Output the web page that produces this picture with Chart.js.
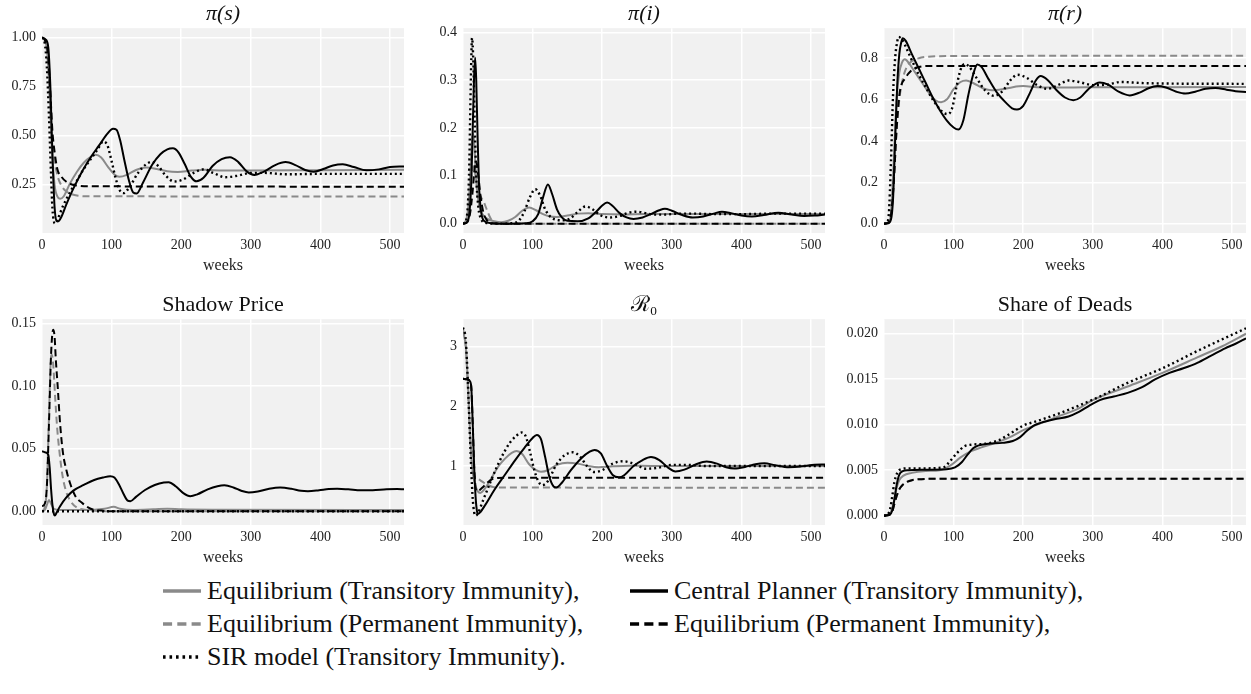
<!DOCTYPE html>
<html>
<head>
<meta charset="utf-8">
<title>Epidemic paths: equilibrium vs central planner</title>
<script src="https://cdn.jsdelivr.net/npm/chart.js@4.4.1/dist/chart.umd.min.js"></script>
<style>
  body { margin: 0; background: #fff; width: 1251px; height: 694px; position: relative; overflow: hidden; font-family: "Liberation Serif", serif; color: #111; }
  canvas { position: absolute; }
  .item { position: absolute; display: flex; align-items: center; height: 30px; white-space: nowrap; font-size: 26px; }
  .item svg { margin-right: 6px; }
</style>
</head>
<body>
<script>
// x axis (weeks)
const weekTicks = [0, 100, 200, 300, 400, 500];
const weekMax = 520;

// pi(s): [week, share]
const sEqTrans = [[0,1.0],[5,0.98],[10,0.8],[14,0.45],[18,0.25],[22,0.19],[26,0.178],[31,0.19],[40,0.255],[50,0.315],[60,0.362],[70,0.392],[77,0.402],[85,0.388],[95,0.34],[104,0.302],[111,0.29],[122,0.3],[135,0.325],[150,0.337],[165,0.33],[180,0.318],[195,0.315],[215,0.322],[235,0.326],[260,0.322],[300,0.322],[400,0.324],[520,0.326]];
const sEqPerm = [[0,1.0],[5,0.98],[9,0.85],[13,0.56],[17,0.4],[22,0.3],[28,0.245],[35,0.215],[42,0.202],[52,0.194],[65,0.191],[520,0.19]];
const sSir = [[0,1.0],[4,0.97],[7,0.85],[10,0.6],[13,0.3],[15,0.13],[17,0.065],[19,0.053],[22,0.07],[30,0.14],[40,0.21],[50,0.27],[60,0.33],[70,0.38],[80,0.43],[88,0.47],[94,0.45],[100,0.37],[106,0.28],[112,0.22],[117,0.207],[126,0.24],[138,0.31],[150,0.355],[158,0.367],[167,0.345],[178,0.295],[190,0.266],[202,0.275],[218,0.31],[232,0.328],[246,0.31],[263,0.288],[280,0.295],[300,0.31],[320,0.31],[350,0.303],[400,0.305],[450,0.305],[520,0.305]];
const sCpTrans = [[0,1.0],[5,0.99],[9,0.95],[12,0.75],[15,0.4],[18,0.14],[21,0.065],[23,0.063],[27,0.08],[35,0.15],[45,0.23],[58,0.32],[70,0.39],[82,0.45],[94,0.51],[102,0.535],[107,0.53],[112,0.48],[118,0.38],[125,0.27],[131,0.21],[136,0.205],[145,0.26],[158,0.35],[170,0.405],[180,0.43],[188,0.435],[196,0.415],[205,0.355],[214,0.29],[222,0.267],[232,0.285],[245,0.345],[258,0.38],[270,0.39],[282,0.365],[294,0.318],[305,0.3],[318,0.315],[335,0.35],[350,0.365],[364,0.35],[378,0.325],[390,0.316],[404,0.33],[418,0.348],[432,0.354],[448,0.34],[466,0.323],[484,0.328],[500,0.34],[520,0.343]];
const sCpPerm = [[0,1.0],[5,0.98],[9,0.9],[12,0.72],[15,0.52],[18,0.42],[22,0.33],[28,0.29],[35,0.265],[44,0.25],[55,0.244],[70,0.242],[520,0.24]];

// pi(i)
const iEqTrans = [[0,0],[5,0.01],[9,0.06],[12,0.15],[14,0.19],[16,0.17],[19,0.09],[23,0.04],[28,0.02],[35,0.01],[45,0.005],[55,0.003],[65,0.006],[75,0.014],[85,0.027],[95,0.034],[105,0.028],[115,0.02],[125,0.015],[135,0.014],[150,0.017],[165,0.021],[180,0.022],[200,0.02],[230,0.019],[260,0.02],[300,0.02],[400,0.02],[520,0.02]];
const iEqPerm = [[0,0],[5,0.005],[9,0.04],[12,0.1],[15,0.12],[18,0.1],[22,0.07],[26,0.055],[30,0.045],[34,0.03],[40,0.01],[48,0.002],[60,0],[520,0]];
const iSir = [[0,0],[4,0.005],[7,0.04],[9,0.12],[11,0.28],[13,0.388],[15,0.33],[17,0.2],[19,0.1],[22,0.035],[26,0.01],[32,0.002],[50,0],[70,0.001],[80,0.006],[88,0.025],[96,0.055],[104,0.072],[111,0.058],[118,0.03],[126,0.014],[135,0.008],[145,0.007],[155,0.012],[165,0.025],[176,0.036],[186,0.03],[197,0.018],[210,0.013],[225,0.016],[238,0.023],[250,0.025],[262,0.022],[275,0.019],[290,0.019],[310,0.021],[330,0.021],[360,0.02],[400,0.02],[450,0.021],[520,0.021]];
const iCpTrans = [[0,0],[5,0.002],[9,0.02],[12,0.09],[14,0.2],[16,0.31],[17.5,0.347],[19,0.3],[21,0.18],[23,0.08],[26,0.025],[30,0.006],[40,0.001],[60,0],[90,0.001],[100,0.005],[108,0.02],[115,0.055],[122,0.082],[128,0.062],[135,0.03],[142,0.013],[150,0.006],[165,0.005],[180,0.011],[192,0.026],[200,0.038],[207,0.044],[215,0.037],[225,0.022],[235,0.013],[245,0.01],[258,0.013],[270,0.02],[282,0.028],[290,0.031],[300,0.027],[315,0.018],[330,0.013],[345,0.015],[360,0.021],[372,0.025],[385,0.022],[400,0.017],[415,0.015],[432,0.018],[453,0.023],[472,0.019],[490,0.016],[505,0.017],[520,0.019]];
const iCpPerm = [[0,0],[6,0.003],[10,0.02],[14,0.07],[17,0.12],[19,0.13],[22,0.1],[25,0.06],[29,0.025],[34,0.008],[42,0.001],[55,0],[520,0]];

// pi(r)
const rEqTrans = [[0,0],[6,0.005],[10,0.05],[14,0.3],[18,0.6],[22,0.73],[26,0.78],[30,0.795],[36,0.775],[45,0.73],[55,0.68],[65,0.63],[74,0.597],[82,0.587],[90,0.6],[100,0.65],[110,0.685],[118,0.692],[128,0.68],[142,0.655],[155,0.645],[170,0.65],[185,0.66],[200,0.665],[220,0.66],[260,0.658],[320,0.66],[400,0.66],[520,0.661]];
const rEqPerm = [[0,0],[6,0.005],[10,0.04],[14,0.2],[18,0.45],[22,0.6],[27,0.7],[33,0.76],[40,0.785],[50,0.8],[62,0.807],[80,0.81],[520,0.812]];
const rSir = [[0,0],[4,0.005],[7,0.05],[10,0.3],[13,0.62],[16,0.8],[19,0.88],[21,0.903],[26,0.89],[32,0.85],[40,0.79],[50,0.72],[60,0.66],[70,0.6],[80,0.555],[86,0.535],[92,0.53],[98,0.56],[104,0.66],[110,0.745],[116,0.772],[122,0.76],[132,0.71],[145,0.645],[158,0.618],[170,0.64],[182,0.695],[192,0.72],[205,0.705],[220,0.67],[235,0.652],[250,0.67],[265,0.692],[280,0.685],[300,0.67],[320,0.672],[340,0.685],[370,0.68],[420,0.677],[520,0.676]];
const rCpTrans = [[0,0],[6,0.002],[10,0.02],[13,0.12],[16,0.4],[19,0.67],[22,0.82],[25,0.88],[27,0.897],[31,0.885],[40,0.82],[50,0.75],[60,0.68],[70,0.61],[80,0.55],[90,0.5],[100,0.465],[107,0.455],[114,0.5],[121,0.62],[128,0.72],[134,0.77],[140,0.758],[150,0.7],[162,0.635],[175,0.585],[184,0.558],[191,0.552],[200,0.57],[210,0.635],[218,0.692],[225,0.714],[235,0.695],[248,0.645],[260,0.61],[272,0.597],[282,0.61],[295,0.655],[310,0.683],[322,0.672],[337,0.638],[353,0.62],[368,0.635],[380,0.655],[393,0.665],[405,0.658],[420,0.638],[433,0.629],[447,0.638],[462,0.652],[476,0.656],[492,0.648],[505,0.64],[520,0.637]];
const rCpPerm = [[0,0],[6,0.005],[10,0.04],[14,0.2],[18,0.45],[22,0.62],[26,0.68],[30,0.7],[35,0.725],[42,0.748],[50,0.757],[60,0.762],[520,0.762]];

// shadow price
const spEqTrans = [[0,0],[4,0.001],[7,0.005],[10,0.009],[13,0.006],[17,0.002],[25,0.001],[60,0.001],[90,0.002],[103,0.0035],[112,0.002],[130,0.001],[160,0.0015],[180,0.002],[200,0.0015],[250,0.0012],[520,0.001]];
const spEqPerm = [[0,0],[4,0.003],[7,0.02],[10,0.075],[12.5,0.12],[14,0.125],[16,0.118],[19,0.09],[22,0.065],[25,0.048],[29,0.03],[34,0.017],[40,0.009],[50,0.003],[65,0.001],[90,0],[520,0]];
const spSir = [[0,0],[520,0]];
const spCpTrans = [[0,0.048],[5,0.047],[9,0.045],[11,0.035],[13,0.018],[15,0.005],[17,-0.002],[18.5,-0.0035],[21,-0.001],[26,0.004],[35,0.011],[45,0.0165],[60,0.021],[75,0.025],[88,0.027],[98,0.028],[104,0.027],[110,0.022],[117,0.014],[123,0.0085],[127,0.008],[135,0.0115],[148,0.017],[162,0.021],[175,0.023],[182,0.0232],[192,0.02],[203,0.0145],[213,0.012],[223,0.0135],[238,0.0175],[252,0.02],[262,0.0207],[275,0.019],[287,0.0162],[297,0.015],[310,0.0158],[325,0.0178],[342,0.019],[358,0.018],[372,0.0163],[382,0.016],[398,0.0168],[412,0.0178],[424,0.018],[440,0.0175],[458,0.0167],[475,0.0168],[495,0.0175],[510,0.0177],[520,0.0176]];
const spCpPerm = [[0,0.004],[4,0.006],[7,0.02],[10,0.07],[13,0.125],[16,0.145],[18,0.14],[20,0.12],[22.5,0.1],[26,0.07],[30,0.047],[35,0.033],[40,0.023],[48,0.012],[58,0.0065],[70,0.002],[85,0.0005],[100,0],[520,0]];

// R0
const r0EqTrans = [[0,3.25],[4,3.0],[7,2.4],[10,1.6],[13,1.0],[17,0.7],[21,0.58],[25,0.55],[30,0.6],[40,0.78],[50,0.98],[60,1.12],[70,1.22],[77,1.25],[85,1.2],[95,1.03],[105,0.93],[112,0.905],[122,0.93],[135,1.02],[150,1.055],[165,1.04],[180,1.0],[195,0.98],[215,0.995],[240,1.005],[270,1.0],[350,1.0],[520,1.0]];
const r0EqPerm = [[0,3.3],[4,3.0],[7,2.3],[10,1.5],[13,1.0],[17,0.82],[21,0.79],[25,0.76],[30,0.72],[36,0.68],[43,0.65],[55,0.64],[520,0.637]];
const r0Sir = [[0,3.32],[4,3.1],[7,2.4],[10,1.5],[12,0.9],[14,0.45],[16,0.23],[18,0.17],[21,0.2],[28,0.4],[40,0.75],[50,1.02],[60,1.25],[68,1.4],[76,1.5],[84,1.56],[90,1.5],[96,1.25],[102,0.95],[108,0.75],[114,0.68],[122,0.75],[134,1.02],[146,1.18],[158,1.23],[168,1.16],[178,1.0],[188,0.9],[200,0.93],[215,1.04],[230,1.08],[245,1.04],[263,0.955],[280,0.97],[300,1.02],[320,1.02],[350,1.0],[400,1.0],[520,1.0]];
const r0CpTrans = [[0,2.46],[6,2.45],[10,2.42],[12,2.3],[14,1.7],[16,1.0],[18,0.5],[20,0.25],[22,0.2],[25,0.23],[32,0.35],[45,0.6],[60,0.85],[75,1.1],[88,1.3],[100,1.47],[106,1.52],[112,1.45],[118,1.15],[124,0.82],[130,0.66],[134,0.64],[142,0.72],[155,0.93],[170,1.13],[182,1.24],[189,1.27],[198,1.21],[207,1.0],[215,0.85],[224,0.81],[232,0.85],[245,1.0],[258,1.1],[270,1.15],[282,1.1],[295,0.97],[305,0.91],[318,0.94],[335,1.03],[350,1.075],[365,1.04],[378,0.98],[390,0.96],[405,0.985],[420,1.03],[433,1.045],[448,1.015],[468,0.98],[488,0.995],[505,1.02],[520,1.025]];
const r0CpPerm = [[0,2.46],[6,2.45],[10,2.42],[12,2.3],[14,1.7],[16,1.0],[18,0.65],[20,0.58],[23,0.59],[28,0.64],[35,0.72],[42,0.78],[50,0.8],[60,0.805],[520,0.805]];

// share of deads
const dEqTrans = [[0,0],[6,0.00005],[10,0.0004],[14,0.0015],[18,0.003],[22,0.0039],[28,0.0044],[40,0.0047],[60,0.0049],[80,0.005],[95,0.0055],[110,0.0064],[125,0.0071],[140,0.0075],[160,0.008],[180,0.0086],[200,0.0094],[220,0.01],[250,0.0109],[280,0.0118],[300,0.0127],[350,0.0142],[400,0.0157],[450,0.0174],[485,0.0186],[520,0.02]];
const dEqPerm = [[0,0],[8,0.0001],[12,0.0005],[15,0.0013],[18,0.0021],[22,0.0029],[27,0.0034],[33,0.0037],[40,0.0039],[50,0.004],[70,0.00405],[520,0.00405]];
const dSir = [[0,0],[5,0.0001],[9,0.0008],[12,0.0022],[15,0.0037],[19,0.0047],[24,0.0051],[35,0.0052],[60,0.0052],[85,0.0053],[95,0.006],[105,0.0069],[115,0.0076],[125,0.0078],[145,0.0079],[165,0.0083],[185,0.0092],[200,0.0099],[220,0.0104],[250,0.0112],[280,0.0121],[310,0.0131],[350,0.0146],[400,0.0162],[450,0.0181],[520,0.0206]];
const dCpTrans = [[0,0],[8,0.0001],[12,0.0006],[15,0.0018],[18,0.0033],[22,0.0045],[27,0.0049],[35,0.005],[60,0.00505],[90,0.0051],[102,0.0053],[112,0.0059],[120,0.0067],[128,0.0074],[135,0.0077],[150,0.0079],[170,0.008],[185,0.0082],[195,0.0086],[205,0.0093],[215,0.0099],[225,0.0102],[245,0.0106],[265,0.0109],[280,0.0114],[295,0.0121],[310,0.0127],[330,0.0131],[350,0.0135],[370,0.0141],[390,0.015],[410,0.0157],[430,0.0162],[450,0.0168],[470,0.0176],[490,0.0184],[505,0.0189],[520,0.0195]];
const dCpPerm = [[0,0],[8,0.0001],[12,0.0005],[15,0.0013],[18,0.0021],[22,0.0029],[27,0.0034],[33,0.0037],[40,0.0039],[50,0.004],[70,0.00405],[520,0.00405]];

// y ticks
const sTicks = [0.25, 0.5, 0.75, 1.0];
const iTicks = [0, 0.1, 0.2, 0.3, 0.4];
const rTicks = [0, 0.2, 0.4, 0.6, 0.8];
const spTicks = [0, 0.05, 0.1, 0.15];
const r0Ticks = [1, 2, 3];
const dTicks = [0, 0.005, 0.01, 0.015, 0.02];

// legend labels, in the order the series are kept in each panel
const seriesLabels = [
  'Equilibrium (Transitory Immunity),',
  'Equilibrium (Permanent Immunity),',
  'SIR model (Transitory Immunity).',
  'Central Planner (Transitory Immunity),',
  'Equilibrium (Permanent Immunity),'
];

const SERIF = '"Liberation Serif", "DejaVu Serif", serif';
const Y_AXIS_W = 42, X_AXIS_H = 44, TITLE_H = 28, RIGHT_PAD = 5;
const GREY = '#8a8a8a';

// same order as seriesLabels
let styles = [
  { color: GREY, width: 2, dash: [] },
  { color: GREY, width: 2, dash: [7, 4] },
  { color: '#000', width: 2.4, dash: [2, 3] },
  { color: '#000', width: 2, dash: [] },
  { color: '#000', width: 2, dash: [7, 4] }
];

let panels = [
  { title: 'π(s)', italic: true, box: [42, 28, 404, 233], yMin: 0.004, yMax: 1.047, ticks: sTicks, dec: 2, series: [sEqTrans, sEqPerm, sSir, sCpTrans, sCpPerm] },
  { title: 'π(i)', italic: true, box: [463, 28, 825, 233], yMin: -0.0195, yMax: 0.4085, ticks: iTicks, dec: 1, series: [iEqTrans, iEqPerm, iSir, iCpTrans, iCpPerm] },
  { title: 'π(r)', italic: true, box: [884, 28, 1246, 233], yMin: -0.045, yMax: 0.945, ticks: rTicks, dec: 1, series: [rEqTrans, rEqPerm, rSir, rCpTrans, rCpPerm] },
  { title: 'Shadow Price', italic: false, box: [42, 319, 404, 525], yMin: -0.011, yMax: 0.1535, ticks: spTicks, dec: 2, series: [spEqTrans, spEqPerm, spSir, spCpTrans, spCpPerm] },
  { title: 'ℛ₀', italic: false, box: [463, 319, 825, 525], yMin: 0.013, yMax: 3.457, ticks: r0Ticks, dec: 0, series: [r0EqTrans, r0EqPerm, r0Sir, r0CpTrans, r0CpPerm] },
  { title: 'Share of Deads', italic: false, box: [884, 319, 1246, 525], yMin: -0.00103, yMax: 0.0216, ticks: dTicks, dec: 3, series: [dEqTrans, dEqPerm, dSir, dCpTrans, dCpPerm] }
];

const plotBackground = {
  id: 'plotBackground',
  beforeDraw(chart) {
    let a = chart.chartArea;
    let ctx = chart.ctx;
    ctx.save();
    ctx.fillStyle = '#f1f1f1';
    ctx.fillRect(a.left, a.top, a.width, a.height);
    ctx.restore();
  }
};

function makeChart(p) {
  let canvas = document.createElement('canvas');
  canvas.width = p.box[2] - p.box[0] + Y_AXIS_W + RIGHT_PAD;
  canvas.height = p.box[3] - p.box[1] + TITLE_H + X_AXIS_H;
  canvas.style.left = (p.box[0] - Y_AXIS_W) + 'px';
  canvas.style.top = (p.box[1] - TITLE_H) + 'px';
  document.body.appendChild(canvas);

  // first series ends up at the bottom, Chart.js paints index 0 last
  let datasets = p.series.map(function(points, k) {
    let st = styles[k];
    return {
      label: seriesLabels[k],
      data: points.map(function(pt) { return { x: pt[0], y: pt[1] }; }),
      borderColor: st.color,
      borderWidth: st.width,
      borderDash: st.dash,
      pointRadius: 0,
      fill: false,
      cubicInterpolationMode: 'monotone'
    };
  }).reverse();

  let tickFont = { family: SERIF, size: 14 };

  new Chart(canvas, {
    type: 'line',
    data: { datasets: datasets },
    plugins: [plotBackground],
    options: {
      responsive: false,
      animation: false,
      events: [],
      layout: { padding: { right: RIGHT_PAD } },
      plugins: {
        legend: { display: false },
        tooltip: { enabled: false },
        title: {
          display: true,
          text: p.title,
          fullSize: false,
          color: '#111',
          font: { family: SERIF, size: 22, weight: 'normal', style: p.italic ? 'italic' : 'normal', lineHeight: 1.1 },
          padding: { top: 2, bottom: 2 }
        }
      },
      scales: {
        x: {
          type: 'linear',
          min: 0,
          max: weekMax,
          afterBuildTicks: function(s) { s.ticks = weekTicks.map(function(v) { return { value: v }; }); },
          afterFit: function(s) { s.height = X_AXIS_H; },
          border: { display: false },
          grid: { color: '#ffffff', lineWidth: 1.5, drawTicks: false },
          ticks: { padding: 4, color: '#222', font: tickFont, maxRotation: 0, callback: function(v) { return String(v); } },
          title: { display: true, text: 'weeks', color: '#222', font: { family: SERIF, size: 16 }, padding: { top: 0, bottom: 2 } }
        },
        y: {
          type: 'linear',
          min: p.yMin,
          max: p.yMax,
          afterBuildTicks: function(s) { s.ticks = p.ticks.map(function(v) { return { value: v }; }); },
          afterFit: function(s) { s.width = Y_AXIS_W; },
          border: { display: false },
          grid: { color: '#ffffff', lineWidth: 1.5, drawTicks: false },
          ticks: { padding: 6, color: '#222', font: tickFont, callback: function(v) { return v.toFixed(p.dec); } }
        }
      }
    }
  });
}

panels.forEach(makeChart);

// legend below the grid, two columns
let legendCols = [163, 630];
let legendRows = [591, 624, 657];
let legendSlots = [[0, 0], [0, 1], [0, 2], [1, 0], [1, 1]];

legendSlots.forEach(function(slot, k) {
  let st = styles[k];
  let item = document.createElement('div');
  item.className = 'item';
  item.style.left = legendCols[slot[0]] + 'px';
  item.style.top = (legendRows[slot[1]] - 15) + 'px';
  let dash = st.dash.length ? st.dash.map(function(d) { return d * 1.3; }).join(' ') : 'none';
  item.innerHTML = '<svg width="38" height="10"><line x1="0" y1="5" x2="38" y2="5" stroke="' + st.color +
    '" stroke-width="3.5" stroke-dasharray="' + dash + '"/></svg>';
  let span = document.createElement('span');
  span.textContent = seriesLabels[k];
  item.appendChild(span);
  document.body.appendChild(item);
});
</script>
</body>
</html>
